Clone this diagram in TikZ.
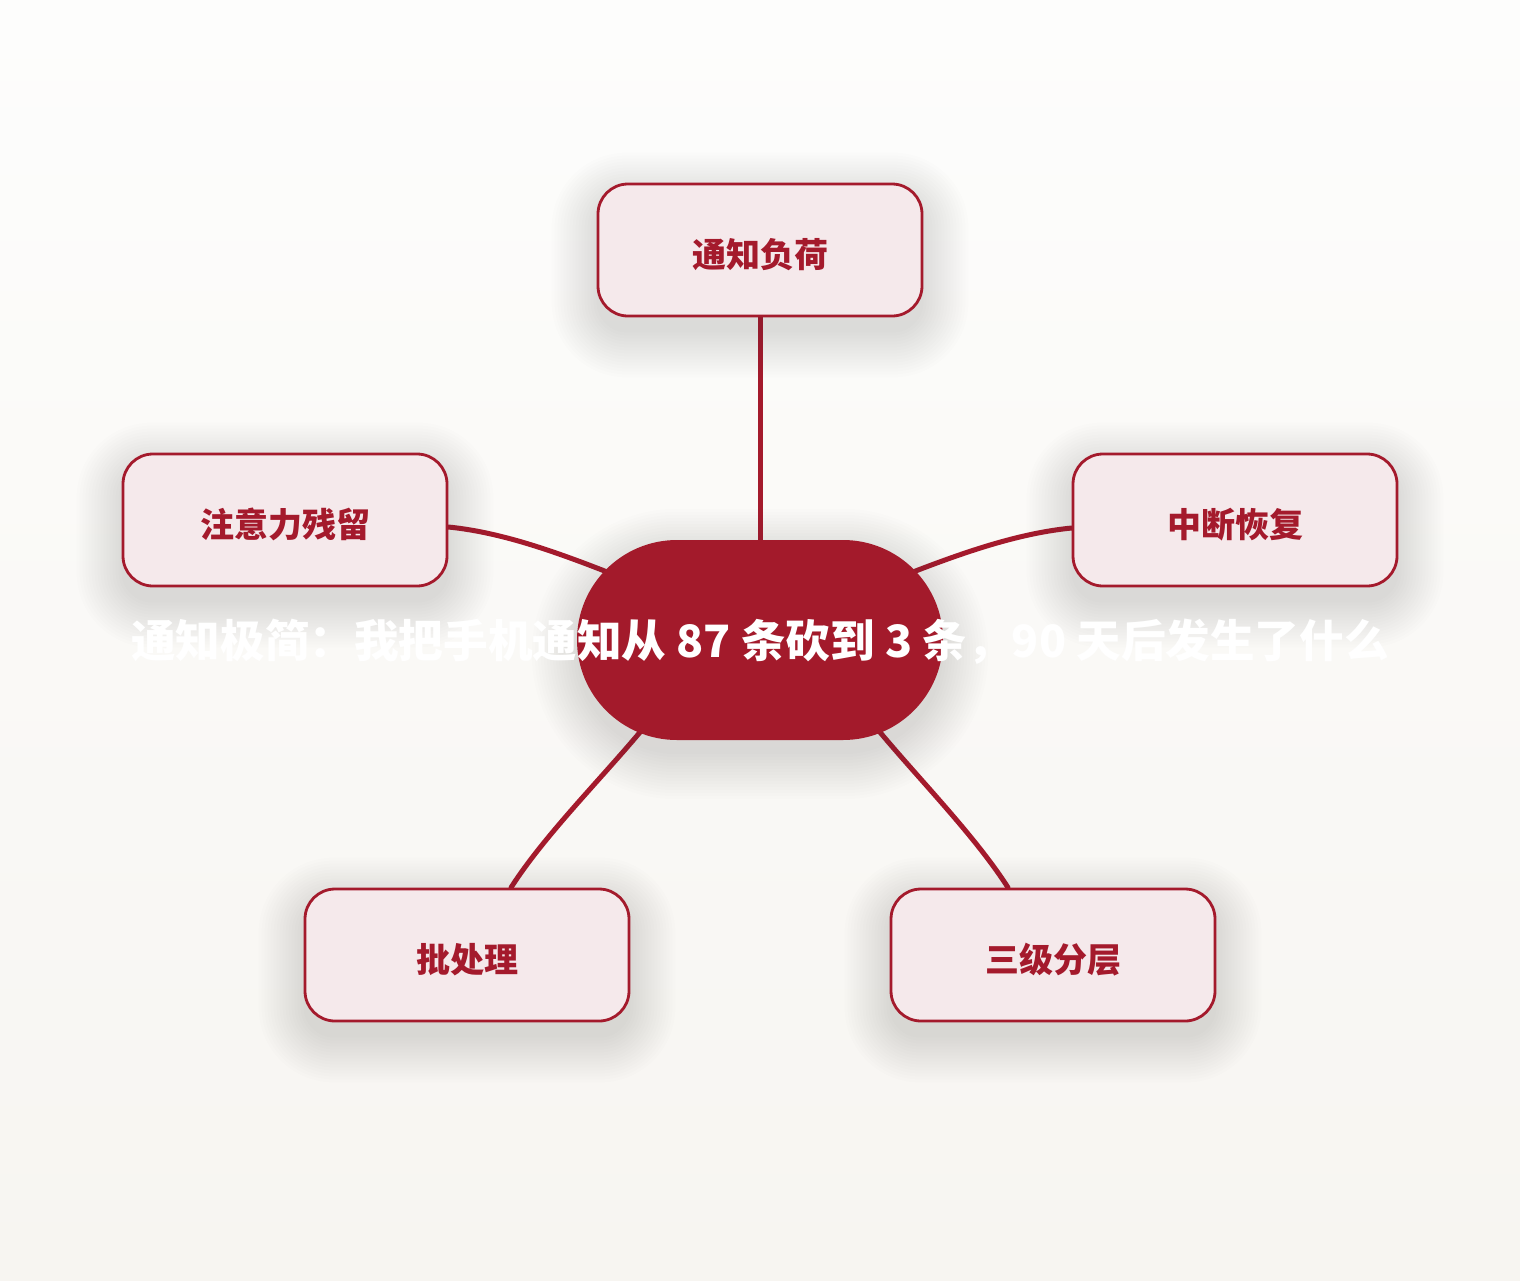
\documentclass[tikz,border=0pt]{standalone}
\usepackage{fontspec}
\newfontfamily\cjk{Noto Sans CJK SC}
\usetikzlibrary{calc}
\definecolor{acc}{HTML}{A41A2C}
\definecolor{hubfill}{HTML}{A31A2B}
\definecolor{boxfill}{HTML}{F5E9EB}
\definecolor{bgtop}{HTML}{FDFDFC}
\definecolor{bgbot}{HTML}{F7F5F1}
\definecolor{shadowc}{HTML}{3C3C3C}
\pgfdeclarelayer{bg}
\pgfdeclarelayer{lines}
\pgfdeclarelayer{shadow}
\pgfsetlayers{bg,lines,shadow,main}
\begin{document}
\begin{tikzpicture}[x=1pt,y=-1pt,
  topic/.style={rectangle, rounded corners=30pt, draw=acc, line width=2.8pt,
    fill=boxfill, minimum width=324pt, minimum height=132pt, inner sep=0pt,
    text height=34pt, text depth=0pt,
    text=acc, font=\cjk\bfseries\fontsize{34}{38}\selectfont},
  hub/.style={rectangle, rounded corners=100pt, fill=hubfill, draw=none,
    minimum width=366pt, minimum height=200pt, inner sep=0pt},
  titletext/.style={text=white, inner sep=0pt,
    font=\cjk\bfseries\fontsize{44.6}{48}\selectfont},
  conn/.style={draw=acc, line width=5pt, line cap=round},
  shadowlayer/.style={fill=shadowc, opacity=0.009}]
\begin{pgfonlayer}{bg}
  \fill[top color=bgtop, bottom color=bgbot] (0,0) rectangle (1520,1280);
\end{pgfonlayer}
\useasboundingbox (0,0) rectangle (1520,1280);

\node[hub] (center) at (760,640) {};
\node[topic] (top) at (760,250) {通知负荷};
\node[topic] (left) at (285,520) {注意力残留};
\node[topic] (right) at (1235,520) {中断恢复};
\node[topic] (bl) at (467,955) {批处理};
\node[topic] (br) at (1053,955) {三级分层};
\node[titletext] (title) at (760,642) {通知极简：我把手机通知从 87 条砍到 3 条，90 天后发生了什么};

\begin{pgfonlayer}{shadow}
  \foreach \n in {top,left,right,bl,br} {
    \foreach \e in {0,3,...,45} {
      \fill[shadowlayer, rounded corners=30+\e]
        ($(\n.north west)+(-\e,-\e+15)$) rectangle ($(\n.south east)+(\e,\e+15)$);
    }
  }
  \foreach \e in {0,3,...,45} {
    \fill[shadowlayer, rounded corners=100+\e]
      ($(center.north west)+(-\e,-\e+14)$) rectangle ($(center.south east)+(\e,\e+14)$);
  }
\end{pgfonlayer}

\begin{pgfonlayer}{lines}
  \draw[conn] (top.center) -- (center.center);
  \draw[conn] ($(left.east)+(0,7)$) .. controls +(60,6) and +(-70,-28) .. ($(center)+(-120,-55)$);
  \draw[conn] ($(right.west)+(0,8)$) .. controls +(-60,6) and +(70,-28) .. ($(center)+(120,-55)$);
  \draw[conn] ($(bl.north)+(44,0)$) .. controls +(35,-55) and +(-40,50) .. ($(center)+(-110,80)$);
  \draw[conn] ($(br.north)+(-45,0)$) .. controls +(-35,-55) and +(40,50) .. ($(center)+(110,80)$);
\end{pgfonlayer}
\end{tikzpicture}
\end{document}
